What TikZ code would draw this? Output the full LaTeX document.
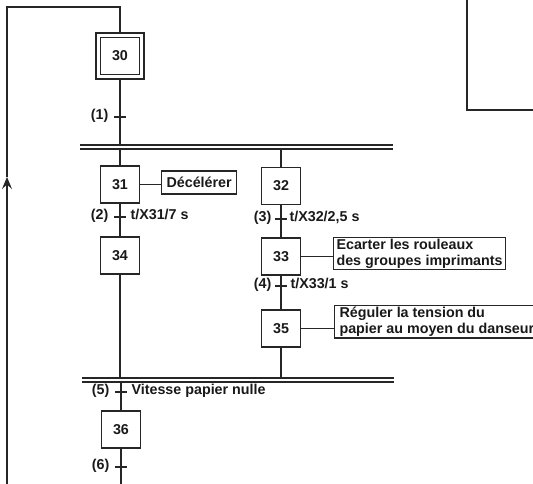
\documentclass[tikz,border=0pt]{standalone}
\usepackage{fontspec}
\setmainfont{Liberation Sans}
\usetikzlibrary{arrows.meta}

\begin{document}
\begin{tikzpicture}[x=1pt,y=-1pt,line width=1.1pt,draw=black!85,
  every node/.style={font=\bfseries\fontsize{14.3}{16}\selectfont,text=black!90},
  etape/.style={draw,minimum width=39pt,minimum height=37pt,inner sep=0pt},
  cadre/.style={draw,minimum width=48pt,minimum height=46pt,inner sep=0pt},
  action/.style={draw,align=left,inner xsep=3pt,inner ysep=1.5pt},
  recep/.style={inner sep=1pt}]
\useasboundingbox (0,0) rectangle (533,484);
\clip (0,0) rectangle (533,484);

% etapes
\node[etape] (S30) at (120,56) {30};
\node[cadre] (S30e) at (S30) {};
\node[etape] (S31) at (120,184.5) {31};
\node[etape] (S34) at (120,255.5) {34};
\node[etape] (S32) at (281,186) {32};
\node[etape] (S33) at (281,256.5) {33};
\node[etape] (S35) at (281,328.5) {35};
\node[etape] (S36) at (121,429.5) {36};

% actions
\node[action,anchor=west,minimum height=23pt,inner xsep=5pt] (A31) at (161,182.5) {D\'ec\'el\'erer};
\node[action,anchor=north west] (A33) at (333,237) {Ecarter les rouleaux\\des groupes imprimants};
\node[action,anchor=north west,inner xsep=5pt] (A35) at (334,305) {R\'eguler la tension du\\papier au moyen du danseur};

\draw (S31.east) -- (S31.east -| A31.west);
\draw (S33.east) -- (S33.east -| A33.west);
\draw (S35.east) -- (S35.east -| A35.west);

% doubles barres
\coordinate (B1) at (80,145);
\coordinate (B1b) at (80,149);
\coordinate (B2) at (82,378);
\coordinate (B2b) at (82,382);
\draw (B1) -- ++(313,0);
\draw (B1b) -- ++(313,0);
\draw (B2) -- ++(312,0);
\draw (B2b) -- ++(312,0);

% liaisons
\draw (S30e.south) -- (S30e.south |- B1);
\draw (S31.north |- B1b) -- (S31.north);
\draw (S32.north |- B1b) -- (S32.north);
\draw (S31.south) -- (S34.north);
\draw (S34.south) -- (S34.south |- B2);
\draw (S32.south) -- (S33.north);
\draw (S33.south) -- (S35.north);
\draw (S35.south) -- (S35.south |- B2);
\draw (S36.north |- B2b) -- (S36.north);
\coordinate (F) at (121,484);
\draw (S36.south) -- (F);

% retour
\coordinate (R0) at (7,484);
\coordinate (R1) at (7,177);
\coordinate (R2) at (7,7);
\draw[-{Stealth[length=12pt,width=10pt,inset=4.5pt]}] (R0) -- (R1);
\draw (R1) -- (R2) -- (R2 -| S30e.north) -- (S30e.north);

% receptivites
\coordinate (T1) at (120,117);
\coordinate (T2) at (120,217);
\coordinate (T3) at (281,219);
\coordinate (T4) at (281,286);
\coordinate (T5) at (121,392);
\coordinate (T6) at (121,467);
\foreach \t in {T1,T2,T3,T4,T5,T6}
  \draw ([xshift=-6pt]\t) -- ([xshift=6pt]\t);

\node[recep,anchor=mid east] (L1) at ([xshift=-10pt]T1) {(1)};
\node[recep,anchor=mid east] (L2) at ([xshift=-10pt]T2) {(2)};
\node[recep,anchor=mid east] (L3) at ([xshift=-8pt]T3) {(3)};
\node[recep,anchor=mid east] (L4) at ([xshift=-8pt]T4) {(4)};
\node[recep,anchor=mid east] (L5) at ([xshift=-10pt]T5) {(5)};
\node[recep,anchor=mid east] (L6) at ([xshift=-10pt]T6) {(6)};

\node[recep,anchor=mid west] (C2) at ([xshift=9pt]T2) {t/X31/7 s};
\node[recep,anchor=mid west] (C3) at ([xshift=7pt]T3) {t/X32/2,5 s};
\node[recep,anchor=mid west] (C4) at ([xshift=8pt]T4) {t/X33/1 s};
\node[recep,anchor=mid west] (C5) at ([xshift=9pt]T5) {Vitesse papier nulle};

% cadre voisin
\draw (467,0) -- (467,110) -- (533,110);
\end{tikzpicture}
\end{document}
